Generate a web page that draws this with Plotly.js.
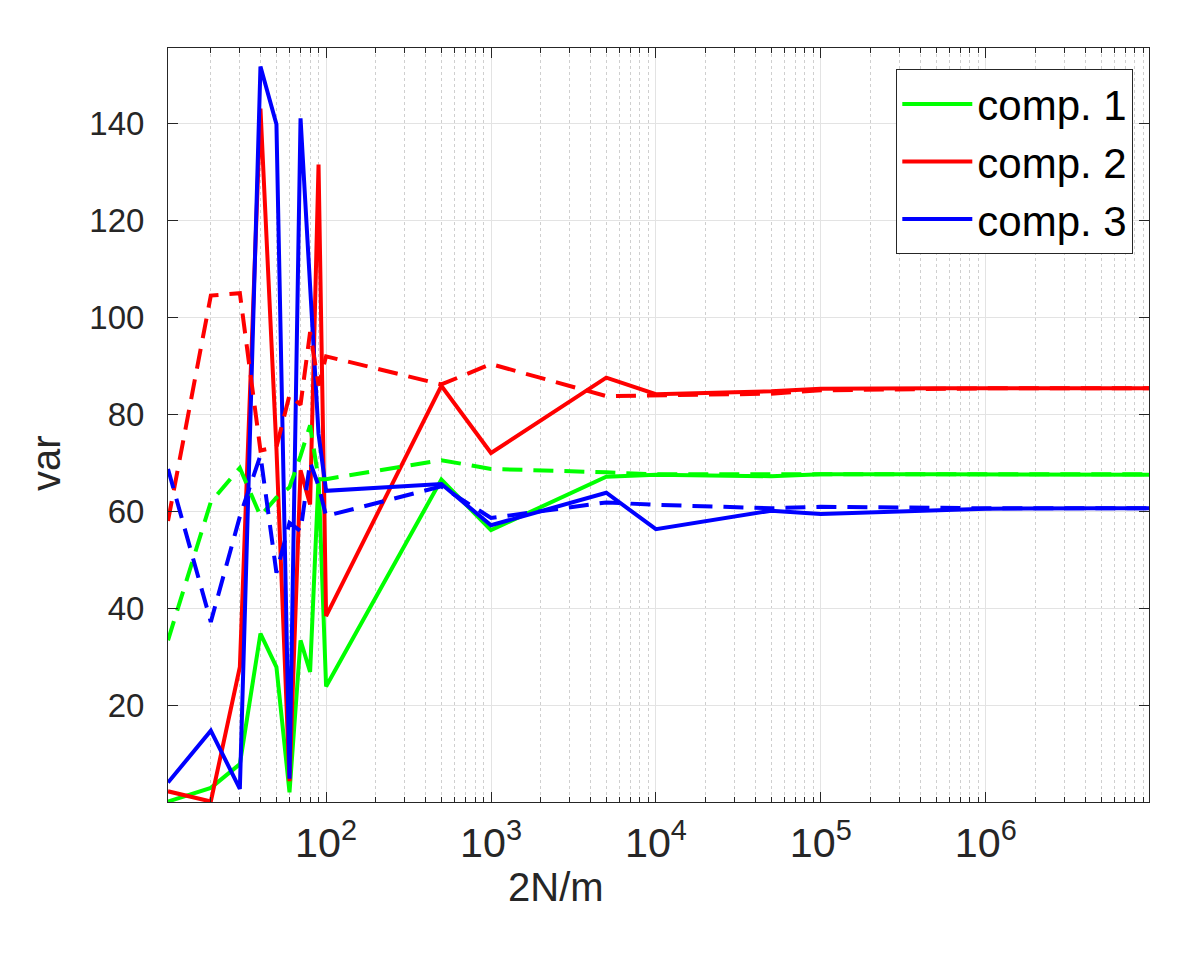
<!DOCTYPE html>
<html>
<head>
<meta charset="utf-8">
<script src="https://cdn.plot.ly/plotly-3.0.1.min.js"></script>
<style>
  body { margin: 0; background: #fff; }
  #varGraph { width: 1200px; height: 960px; }
</style>
</head>
<body>
<div id="varGraph"></div>
<script>
// 2N/m values (log axis)
var xVals = [11, 20, 30, 40, 50, 60, 70, 80, 90, 100, 500, 1000, 5000, 1e4, 5e4, 1e5, 5e5, 1e6, 5e6, 1e7];

// solid lines
var comp1 = [0.3, 3.1, 8, 34.9, 28, 2.2, 33.5, 27, 67, 24, 66.6, 56.2, 67.2, 67.6, 67.3, 67.7, 67.7, 67.7, 67.7, 67.6];
var comp2 = [2.4, 0.3, 28, 143, 73, 4.5, 68.5, 61.5, 131.5, 38.5, 85.9, 72.1, 87.6, 84.2, 84.8, 85.3, 85.4, 85.4, 85.4, 85.4];
var comp3 = [4.2, 14.9, 2.9, 151.7, 139.8, 5, 141, 105, 76, 64.3, 65.7, 57.2, 63.9, 56.4, 60.2, 59.5, 60.3, 60.6, 60.7, 60.7];

// dashed lines
var comp1Dash = [33.5, 62, 69, 59.1, 62.9, 65, 71.5, 77.8, 66.7, 66.7, 70.6, 68.8, 68.1, 67.7, 67.7, 67.7, 67.7, 67.7, 67.7, 67.7];
var comp2Dash = [58.1, 104.5, 105, 72.6, 73.3, 84, 82, 97, 86, 92, 86.2, 90.4, 83.8, 84, 84.3, 85, 85.3, 85.4, 85.4, 85.4];
var comp3Dash = [68.8, 37.3, 59, 71.6, 47.4, 57.7, 56, 70.2, 65.3, 59.1, 65.2, 58.7, 61.9, 61.4, 60.7, 61, 60.8, 60.7, 60.7, 60.7];

var names = ['comp. 1', 'comp. 2', 'comp. 3'];
var colors = ['#00ff00', '#ff0000', '#0000ff'];
var solidData = [comp1, comp2, comp3];
var dashData = [comp1Dash, comp2Dash, comp3Dash];

var traces = [];
for (var i = 0; i < 3; i++) {
    traces.push({
        x: xVals,
        y: solidData[i],
        name: names[i],
        mode: 'lines',
        line: {color: colors[i], width: 4}
    });
}
for (var j = 0; j < 3; j++) {
    traces.push({
        x: xVals,
        y: dashData[j],
        name: names[j],
        mode: 'lines',
        showlegend: false,
        line: {color: colors[j], width: 4, dash: '20px,11px'}
    });
}

var FONT = 'Liberation Sans, Arial, sans-serif';
var tickFont = {family: FONT, size: 33, color: '#262626'};
var labelFont = {family: FONT, size: 40, color: '#262626'};

var graphLayout = {
    width: 1200,
    height: 960,
    paper_bgcolor: '#ffffff',
    plot_bgcolor: '#ffffff',
    margin: {l: 168, r: 51, t: 48, b: 158},
    showlegend: true,
    legend: {
        x: 0.984, y: 0.972,
        xanchor: 'right', yanchor: 'top',
        bgcolor: '#ffffff',
        bordercolor: '#262626',
        borderwidth: 1,
        itemwidth: 70,
        font: {family: FONT, size: 42, color: '#000000'}
    },
    xaxis: {
        type: 'log',
        range: [Math.log10(11), 6.99],
        dtick: 1,
        exponentformat: 'power',
        showline: true,
        linecolor: '#262626',
        linewidth: 1,
        mirror: 'ticks',
        ticks: 'inside',
        ticklen: 10,
        tickcolor: '#262626',
        ticklabelstandoff: 6,
        showgrid: true,
        gridcolor: '#e3e3e3',
        zeroline: false,
        tickfont: tickFont,
        minor: {
            dtick: 'D1',
            ticks: 'inside',
            ticklen: 5,
            tickcolor: '#262626',
            showgrid: true,
            gridcolor: '#cfcfcf',
            griddash: 'dot'
        }
    },
    yaxis: {
        range: [0.2, 155.5],
        tick0: 0,
        dtick: 20,
        showline: true,
        linecolor: '#262626',
        linewidth: 1,
        mirror: 'ticks',
        ticks: 'inside',
        ticklen: 10,
        tickcolor: '#262626',
        ticklabelstandoff: 16,
        showgrid: true,
        gridcolor: '#e3e3e3',
        zeroline: false,
        tickfont: tickFont
    },
    // axis labels placed as annotations to sit where the original has them
    annotations: [
        {text: '2N/m', xref: 'paper', yref: 'paper', x: 0.396, y: -0.113,
         xanchor: 'center', yanchor: 'middle', showarrow: false, font: labelFont},
        {text: 'var', xref: 'paper', yref: 'paper', x: -0.125, y: 0.45,
         xanchor: 'center', yanchor: 'middle', textangle: -90, showarrow: false, font: labelFont}
    ]
};

Plotly.newPlot('varGraph', traces, graphLayout, {staticPlot: true});
</script>
</body>
</html>
